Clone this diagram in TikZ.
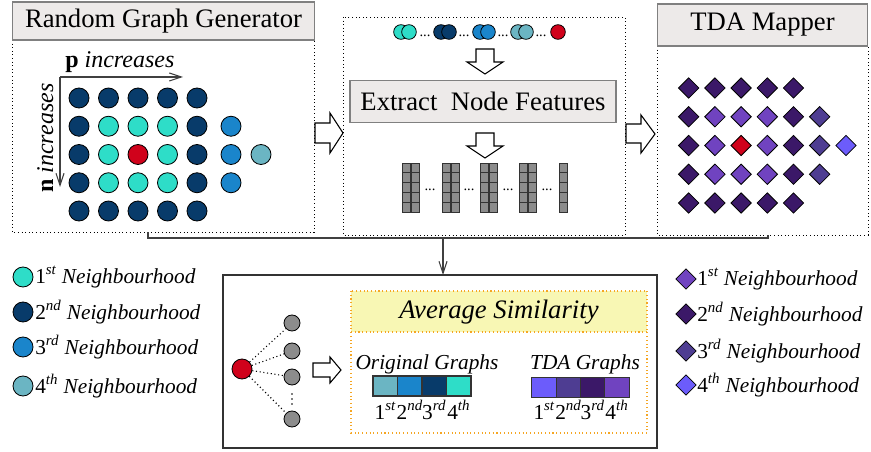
\documentclass[tikz,border=0pt]{standalone}
\usepackage{fontspec}
\IfFontExistsTF{LiberationSerif-Regular.ttf}
  {\setmainfont{LiberationSerif}[Extension=.ttf, UprightFont=*-Regular, ItalicFont=*-Italic,
     BoldFont=*-Bold, BoldItalicFont=*-BoldItalic]}
  {\setmainfont{Liberation Serif}}
\usetikzlibrary{shapes.geometric, arrows.meta}

\definecolor{nbA}{RGB}{46,221,200}
\definecolor{nbB}{RGB}{8,59,106}
\definecolor{nbC}{RGB}{26,133,203}
\definecolor{nbD}{RGB}{107,181,195}
\definecolor{seed}{RGB}{208,2,27}
\definecolor{tdA}{RGB}{112,67,192}
\definecolor{tdB}{RGB}{59,24,104}
\definecolor{tdC}{RGB}{78,61,146}
\definecolor{tdD}{RGB}{108,92,251}
\definecolor{titlegray}{RGB}{237,234,233}
\definecolor{hdyellow}{RGB}{248,247,180}
\definecolor{hdorange}{RGB}{245,166,35}
\definecolor{featgray}{RGB}{140,140,140}
\definecolor{linegray}{RGB}{64,64,64}

\tikzset{
  dot/.style={circle, draw=black, line width=0.6pt, minimum size=15pt, inner sep=0pt},
  sdot/.style={circle, draw=black, line width=0.6pt, minimum size=11pt, inner sep=0pt},
  gdot/.style={circle, draw=black, line width=0.6pt, fill=featgray, minimum size=12pt, inner sep=0pt},
  dia/.style={diamond, aspect=1, draw=black, line width=0.6pt, minimum size=15.5pt, inner sep=0pt},
  titlebox/.style={draw=gray, fill=titlegray, line width=0.8pt, inner sep=0pt,
    font=\fontsize{20}{24}\selectfont},
  dotbox/.style={draw=black, dotted, line width=0.7pt},
  blk/.style={draw=black, fill=white, line width=0.8pt, line join=miter},
  flow/.style={draw=linegray, line width=0.8pt},
  cell/.style={rectangle, draw=black!80, line width=0.8pt, minimum width=18.4pt, minimum height=15pt, inner sep=0pt},
  feat/.style={draw=black!80, fill=featgray, line width=0.6pt},
  legtxt/.style={anchor=west, inner sep=0pt, font=\fontsize{16}{18}\selectfont},
}

\begin{document}
\begin{tikzpicture}[x=0.75pt, y=-0.75pt]
\useasboundingbox (0,0) rectangle (871,452);

% random graph generator
\draw[dotbox] (12,40) rectangle (314,232);
\node[titlebox, minimum width=227pt, minimum height=28.5pt] (gentitle) at (163.5,21) {Random Graph Generator};

\coordinate (axO) at (60,77);
\coordinate (axP) at (183,77);
\coordinate (axN) at (60,187);
\draw[flow, -{Straight Barb[length=9pt, width=6pt]}] (axO) -- (axP);
\draw[flow, -{Straight Barb[length=9pt, width=6pt]}] (axO) -- (axN);
\node[anchor=base west, inner sep=0pt, font=\fontsize{18}{20}\selectfont] (pinc) at (65,68) {\textbf{p} \textit{increases}};
\node[rotate=90, anchor=base west, inner sep=0pt, font=\fontsize{18}{20}\selectfont] (ninc) at (53,193) {\textbf{n} \textit{increases}};

\foreach \r in {1,...,5}{
  \foreach \c in {1,...,5}{
    \pgfmathtruncatemacro\dist{max(abs(\r-3),abs(\c-3))}
    \ifcase\dist \def\col{seed}\or \def\col{nbA}\or \def\col{nbB}\fi
    \node[dot, fill=\col] (g-\r-\c) at ({49.5+29.5*\c},{69.75+28.25*\r}) {};
  }
}
\foreach \r in {2,3,4}
  \node[dot, fill=nbC] (g-\r-6) at (231,{69.75+28.25*\r}) {};
\node[dot, fill=nbD] (g-3-7) at (261,154.5) {};

% node features
\draw[dotbox] (343,17) rectangle (625,235);
\foreach \col/\x in {nbA/401, nbB/441, nbC/480, nbD/518}{
  \node[sdot, fill=\col] (p-\col-a) at (\x,32) {};
  \node[sdot, fill=\col] (p-\col-b) at (\x+8,32) {};
}
\node[sdot, fill=seed] (p-seed) at (558,32) {};
\foreach \x [count=\i] in {425,464,503,541}
  \node[anchor=base, inner sep=0pt, font=\fontsize{11}{12}\selectfont] (pd\i) at (\x,37) {...};

\draw[blk] (476,49) -- (494,49) -- (494,62) -- (503,62) -- (485,74) -- (467,62) -- (476,62) -- cycle;
\node[titlebox, minimum width=199.5pt, minimum height=32pt] (extract) at (483,101.5) {Extract~~Node Features};
\draw[blk] (476,133) -- (494,133) -- (494,146) -- (503,146) -- (485,158) -- (467,146) -- (476,146) -- cycle;

\foreach \x in {402,411,442,451,480,489,519,528,559}
  \foreach \k in {0,...,4}
    \draw[feat] ({\x},{163+9.8*\k}) rectangle ++(8,9.8);
\foreach \x [count=\i] in {430,469,508,547}
  \node[anchor=base, inner sep=0pt, font=\fontsize{11}{12}\selectfont] (fd\i) at (\x,191) {...};

% block arrows between panels
\draw[blk] (315,123) -- (330,123) -- (330,113) -- (343,133) -- (330,153) -- (330,143) -- (315,143) -- cycle;
\draw[blk] (626,124) -- (641,124) -- (641,115) -- (655,134) -- (641,153) -- (641,143) -- (626,143) -- cycle;

% TDA mapper
\draw[dotbox] (657,46) rectangle (868,235);
\node[titlebox, minimum width=158pt, minimum height=31.5pt] (maptitle) at (762.5,25) {TDA Mapper};
\foreach \r in {1,...,5}{
  \foreach \c in {1,...,5}{
    \pgfmathtruncatemacro\dist{max(abs(\r-3),abs(\c-3))}
    \ifcase\dist \def\col{seed}\or \def\col{tdA}\or \def\col{tdB}\fi
    \node[dia, fill=\col] (m-\r-\c) at ({662.5+26.2*\c},{59.25+28.75*\r}) {};
  }
}
\foreach \r in {2,3,4}
  \node[dia, fill=tdC] (m-\r-6) at (819.7,{59.25+28.75*\r}) {};
\node[dia, fill=tdD] (m-3-7) at (846,145.5) {};

% joining lines
\coordinate (genS) at (148,232);
\coordinate (mapS) at (768,235);
\coordinate (joinL) at (148,238);
\coordinate (joinR) at (768,238);
\coordinate (joinM) at (443,238);
\coordinate (simN) at (443,275);
\draw[flow] (genS) -- (joinL) -- (joinR) -- (mapS);
\draw[flow, -{Straight Barb[length=9pt, width=6pt]}] (joinM) -- (simN);

% similarity panel
\draw[draw=black!80, line width=1.2pt] (223,275) rectangle (657,448);
\node[dot, fill=seed] (src) at (242,369) {};
\foreach \y [count=\i] in {323,351,377,419}
  \node[gdot] (nb\i) at (292,\y) {};
\foreach \i in {1,...,4}
  \draw[dotted, line width=0.8pt] (src) -- (nb\i);
\foreach \y in {394,399,404}
  \fill (292,\y) circle (0.6pt);
\draw[blk] (313,363) -- (330,363) -- (330,357) -- (341,370) -- (330,383) -- (330,377) -- (313,377) -- cycle;

\fill[hdyellow] (351,291) rectangle (647,332);
\draw[hdorange, dotted, line width=0.8pt] (351,291) rectangle (647,433);
\draw[hdorange, dotted, line width=0.8pt] (351,332) -- (647,332);
\node[font=\fontsize{20}{24}\selectfont\itshape] (avg) at (499,312) {Average Similarity};

\node[anchor=base, font=\fontsize{16}{18}\selectfont\itshape] (orig) at (427,369) {Original Graphs};
\node[anchor=base, font=\fontsize{16}{18}\selectfont\itshape] (tdag) at (585,369) {TDA Graphs};
\foreach \col/\n/\s [count=\i] in {nbD/1/st, nbC/2/nd, nbB/3/rd, nbA/4/th}{
  \node[cell, fill=\col] (ob\i) at ({360.75+24.5*\i},386) {};
  \node[anchor=base, inner sep=0pt, font=\fontsize{16}{18}\selectfont] (ol\i) at ({360.75+24.5*\i},419) {\n\textsuperscript{\itshape\s}};
}
\foreach \col/\n/\s [count=\i] in {tdD/1/st, tdC/2/nd, tdB/3/rd, tdA/4/th}{
  \node[cell, fill=\col] (tb\i) at ({519.9+24.25*\i},387.5) {};
  \node[anchor=base, inner sep=0pt, font=\fontsize{16}{18}\selectfont] (tl\i) at ({519.9+24.25*\i},419) {\n\textsuperscript{\itshape\s}};
}

% legends
\foreach \col/\y/\n/\s [count=\i] in {nbA/277/1/st, nbB/312/2/nd, nbC/347/3/rd, nbD/386/4/th}{
  \node[dot, fill=\col] (lc\i) at (23,\y) {};
  \node[legtxt] (lct\i) at (35,\y) {\n\textsuperscript{\itshape\s} \textit{Neighbourhood}};
}
\foreach \col/\y/\n/\s [count=\i] in {tdA/279/1/st, tdB/314/2/nd, tdC/351/3/rd, tdD/385/4/th}{
  \node[dia, fill=\col] (ld\i) at (686,\y) {};
  \node[legtxt] (ldt\i) at (697,\y) {\n\textsuperscript{\itshape\s} \textit{Neighbourhood}};
}
\end{tikzpicture}
\end{document}
